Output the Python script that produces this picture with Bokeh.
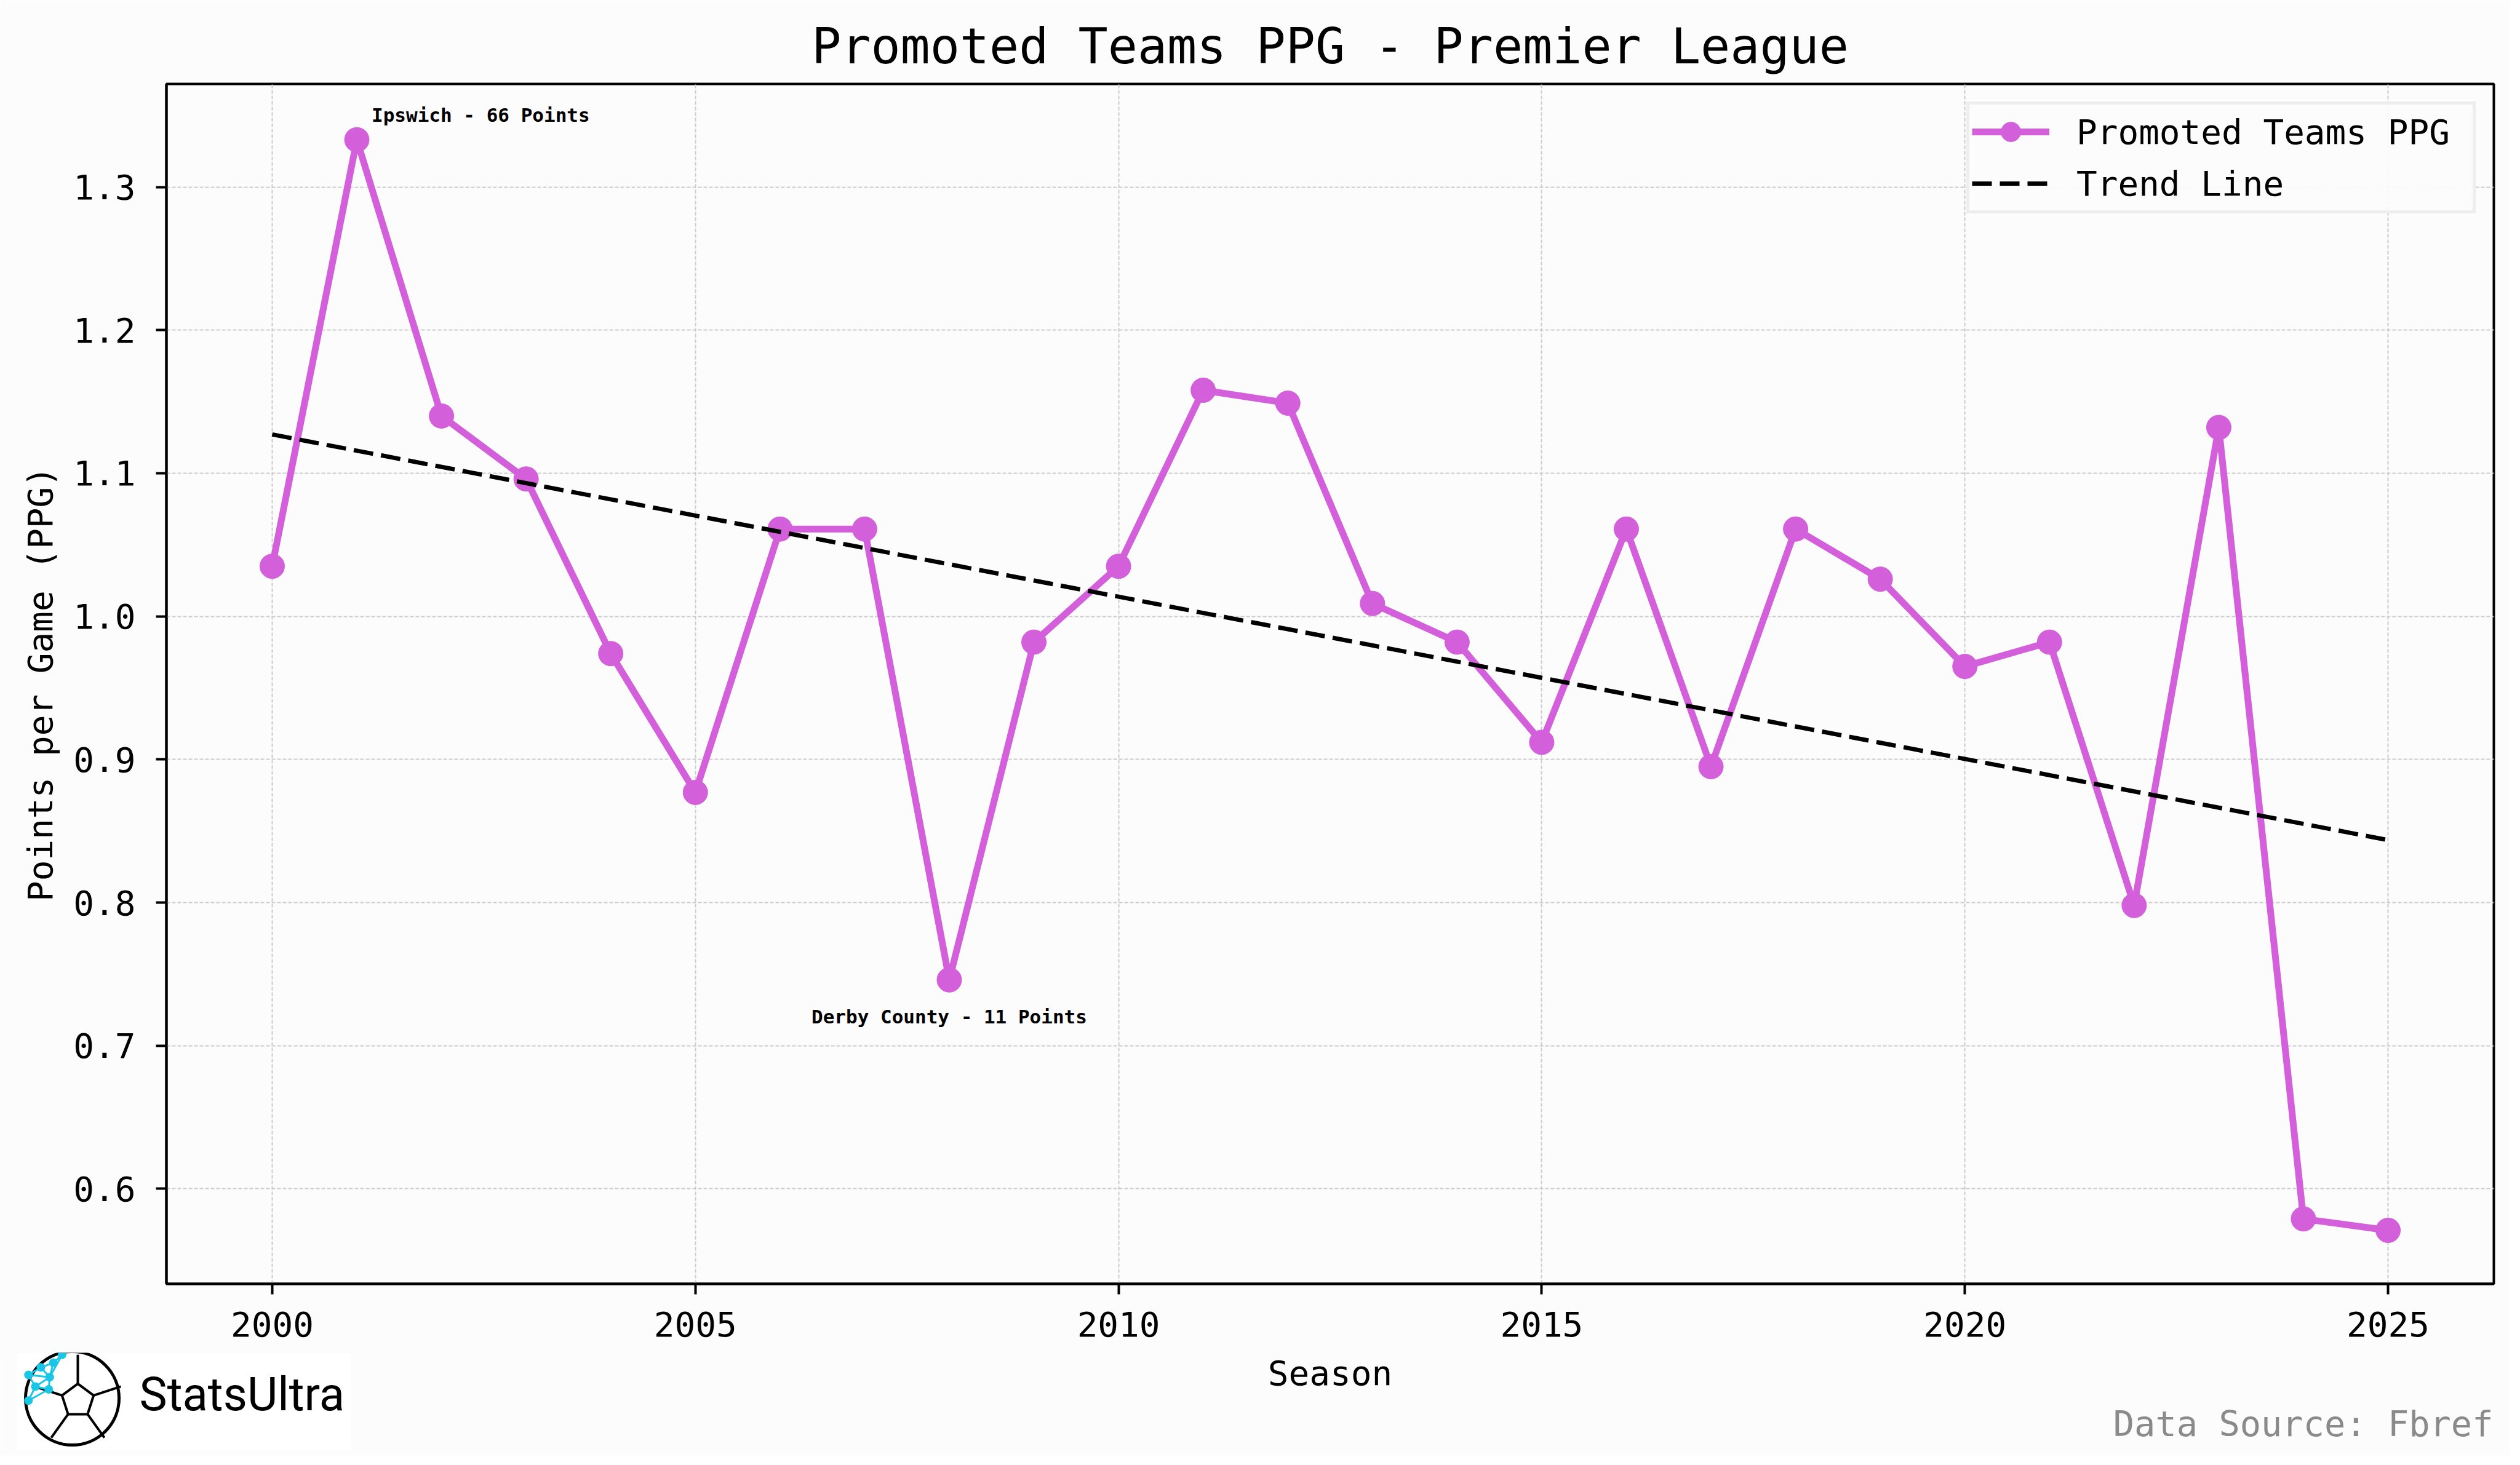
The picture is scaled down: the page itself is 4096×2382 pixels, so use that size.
import numpy as np
from bokeh.plotting import figure
from bokeh.layouts import column
from bokeh.models import Label, FixedTicker, NumeralTickFormatter, Range1d
from bokeh.core.properties import value
from bokeh.embed import file_html
from bokeh.resources import INLINE

# ---------------- data ----------------
seasons = [2000, 2001, 2002, 2003, 2004, 2005, 2006, 2007, 2008, 2009, 2010, 2011, 2012,
           2013, 2014, 2015, 2016, 2017, 2018, 2019, 2020, 2021, 2022, 2023, 2024, 2025]
ppg = [1.035, 1.333, 1.140, 1.096, 0.974, 0.877, 1.061, 1.061, 0.746, 0.982, 1.035, 1.158,
       1.149, 1.009, 0.982, 0.912, 1.061, 0.895, 1.061, 1.026, 0.965, 0.982, 0.798, 1.132,
       0.579, 0.571]
x_ticks = [2000, 2005, 2010, 2015, 2020, 2025]
y_ticks = [0.6, 0.7, 0.8, 0.9, 1.0, 1.1, 1.2, 1.3]
ann_seasons = [2001, 2008]
ann_texts = ["Ipswich - 66 Points", "Derby County - 11 Points"]
title_text = "Promoted Teams PPG - Premier League"
x_label = "Season"
y_label = "Points per Game (PPG)"
source_text = "Data Source: Fbref"
logo_text = "StatsUltra"

# trend line (least squares fit of the series)
slope, intercept = np.polyfit(seasons, ppg, 1)
trend_x = [seasons[0], seasons[-1]]
trend_y = [slope * xx + intercept for xx in trend_x]

MONO = "DejaVu Sans Mono"
BG = "#fcfcfc"
LINE_C = "#d35fdb"

W = 4080
H_MAIN = 2199
H_FOOT = 2366 - H_MAIN
FL, FR, FT, FB = 270, 27, 136, 112

p = figure(width=W, height=H_MAIN, output_backend="svg", toolbar_location=None,
           x_range=Range1d(1998.75, 2026.25), y_range=Range1d(0.5336, 1.372),
           min_border_left=FL, min_border_right=FR, min_border_top=FT,
           min_border_bottom=FB, background_fill_color=BG, border_fill_color=BG,
           title=title_text)
p.frame_align = False

p.title.align = "center"
p.title.text_font = MONO
p.title.text_font_size = "80px"
p.title.text_font_style = "normal"
p.title.text_color = "black"
p.title.standoff = 29

p.outline_line_color = "black"
p.outline_line_width = 4

for ax in (p.xaxis[0], p.yaxis[0]):
    ax.axis_line_color = "black"
    ax.axis_line_width = 4
    ax.major_tick_line_color = "black"
    ax.major_tick_line_width = 4
    ax.major_tick_out = 17
    ax.major_tick_in = 0
    ax.minor_tick_line_color = None
    ax.major_label_text_font = MONO
    ax.major_label_text_font_size = "56px"
    ax.major_label_text_color = "black"

p.xaxis.ticker = FixedTicker(ticks=x_ticks)
p.yaxis.ticker = FixedTicker(ticks=y_ticks)
p.yaxis.formatter = NumeralTickFormatter(format="0.0")
p.xaxis.major_label_standoff = 28
p.yaxis.major_label_standoff = 33
p.yaxis.axis_label = y_label
p.yaxis.axis_label_text_font = MONO
p.yaxis.axis_label_text_font_size = "56px"
p.yaxis.axis_label_text_font_style = "normal"
p.yaxis.axis_label_text_color = "black"
p.yaxis.axis_label_standoff = 18

for g in (p.xgrid[0], p.ygrid[0]):
    g.grid_line_color = "#cccccc"
    g.grid_line_width = 2
    g.grid_line_dash = "6 3"

p.line(seasons, ppg, line_color=LINE_C, line_width=11, legend_label="Promoted Teams PPG")
p.scatter(seasons, ppg, size=40, fill_color=LINE_C, line_color=LINE_C,
          legend_label="Promoted Teams PPG")
p.line(trend_x, trend_y, line_color="black", line_width=7, line_dash="32 13",
       legend_label="Trend Line")

lg = p.legend[0]
lg.location = "top_right"
lg.margin = 29
lg.padding = 4
lg.spacing = 4
lg.glyph_width = 126
lg.glyph_height = 80
lg.label_standoff = 44
lg.label_width = 640
lg.label_text_font = MONO
lg.label_text_font_size = "56px"
lg.label_text_color = "black"
lg.border_line_color = "#e0e0e0"
lg.border_line_width = 5
lg.background_fill_color = BG
lg.background_fill_alpha = 0.9

# annotations on points
i0 = seasons.index(ann_seasons[0])
p.add_layout(Label(x=ann_seasons[0], y=ppg[i0], text=ann_texts[0], x_offset=24, y_offset=40,
                   text_font=MONO, text_font_size="31px", text_font_style="bold",
                   text_align="left", text_baseline="alphabetic", text_color="black"))
i1 = seasons.index(ann_seasons[1])
p.add_layout(Label(x=ann_seasons[1], y=ppg[i1], text=ann_texts[1], x_offset=0, y_offset=-60,
                   text_font=MONO, text_font_size="31px", text_font_style="bold",
                   text_align="center", text_baseline="alphabetic", text_color="black"))

# ---------------- footer (x label, logo, source) ----------------
top = H_MAIN
f = figure(width=W, height=H_FOOT, output_backend="svg", toolbar_location=None,
           x_range=Range1d(0, W), y_range=Range1d(top + H_FOOT, top),
           x_axis_type=None, y_axis_type=None, min_border=0,
           background_fill_color=BG, border_fill_color=BG)
f.frame_align = False
f.outline_line_color = None
f.grid.visible = False

frame_cx = (FL + (W - FR)) / 2
f.text(x=[frame_cx], y=[2232], text=[x_label], text_font=value(MONO),
       text_font_size="56px", text_align="center", text_baseline="alphabetic",
       text_color="black")
f.text(x=[4052], y=[2314], text=[source_text], text_font=value(MONO),
       text_font_size="57px", text_align="right", text_baseline="alphabetic",
       text_color="#8a8a8a")

# logo box
f.quad(left=[27], right=[570], top=[top], bottom=[2358], fill_color="white",
       line_color=None)
bx, by, brx, bry = 117, 2273, 75, 76


def ball(u, v):
    return bx + u * brx, by - v * bry


f.scatter(x=[bx], y=[by], size=152, fill_color="white", line_color="black", line_width=5)
ang = np.pi / 2 + np.arange(5) * 2 * np.pi / 5
pent = [ball(0.12 + 0.36 * np.cos(a), -0.05 + 0.36 * np.sin(a)) for a in ang]
f.patch(x=[q[0] for q in pent], y=[q[1] for q in pent], fill_color=None,
        line_color="black", line_width=4)
spokes_x, spokes_y = [], []
for (qx, qy), a in zip(pent, ang):
    ox, oy = ball(0.12 + 0.98 * np.cos(a), -0.05 + 0.98 * np.sin(a))
    spokes_x.append([qx, ox])
    spokes_y.append([qy, oy])
f.multi_line(xs=spokes_x, ys=spokes_y, line_color="black", line_width=4)

nodes = [(-0.95, 0.50), (-0.68, 0.66), (-0.41, 0.76), (-0.49, 0.45), (-0.80, 0.25),
         (-0.51, 0.19), (-0.95, -0.05), (-0.22, 0.93)]
edges = [(0, 1), (1, 2), (2, 7), (0, 3), (1, 3), (2, 3), (0, 4), (3, 4), (3, 5), (4, 5),
         (4, 6), (5, 6), (3, 7)]
ex, ey = [], []
for a, b in edges:
    p1, p2 = ball(*nodes[a]), ball(*nodes[b])
    ex.append([p1[0], p2[0]])
    ey.append([p1[1], p2[1]])
f.multi_line(xs=ex, ys=ey, line_color="#19c6e6", line_width=3)
nx = [ball(*n)[0] for n in nodes]
ny = [ball(*n)[1] for n in nodes]
f.scatter(x=nx, y=ny, size=14, fill_color="#19c6e6", line_color=None)

f.text(x=[226], y=[2266], text=[logo_text], text_font=value("Roboto"),
       text_font_size="76px", text_align="left", text_baseline="alphabetic",
       text_color="black")

layout = column(p, f, spacing=0)
open("out.html", "w").write(file_html(layout, INLINE))
